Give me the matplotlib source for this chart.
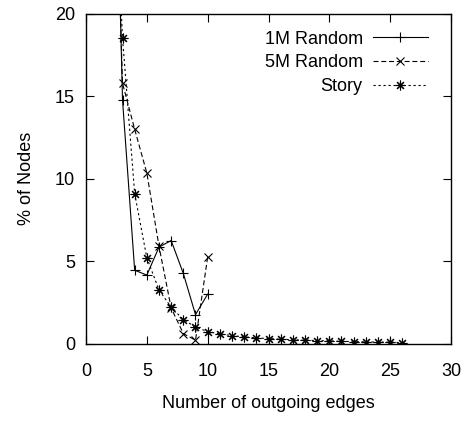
import matplotlib
matplotlib.use("Agg")
import matplotlib.pyplot as plt

plt.rcParams["font.family"] = ["Liberation Sans", "DejaVu Sans"]

# degree values (x) and % of nodes for each run
edges_1m = [2, 3, 4, 5, 6, 7, 8, 9, 10]
pct_1m = [45.0, 14.8, 4.45, 4.15, 5.85, 6.25, 4.25, 1.75, 3.0]

edges_5m = [2, 3, 4, 5, 6, 7, 8, 9, 10]
pct_5m = [40.0, 15.8, 13.0, 10.35, 5.9, 2.15, 0.6, 0.2, 5.25]

edges_story = [2, 3, 4, 5, 6, 7, 8, 9, 10, 11, 12, 13, 14, 15, 16, 17, 18,
               19, 20, 21, 22, 23, 24, 25, 26]
pct_story = [35.0, 18.55, 9.1, 5.2, 3.25, 2.2, 1.45, 1.0, 0.72, 0.58, 0.48,
             0.4, 0.34, 0.3, 0.26, 0.23, 0.2, 0.18, 0.16, 0.13, 0.12, 0.1,
             0.09, 0.08, 0.05]

fig = plt.figure(figsize=(4.66, 4.23), dpi=100)
ax = fig.add_axes([86 / 466, 1 - 343.5 / 423, (451 - 86) / 466, (343.5 - 14) / 423])

ax.plot(edges_1m, pct_1m, color="black", lw=0.8, ls="-", marker="+",
        ms=7, mew=0.8, label="1M Random")
ax.plot(edges_5m, pct_5m, color="black", lw=0.8, ls=(0, (4.5, 2.5)), marker="x",
        ms=6, mew=0.8, label="5M Random")
ax.plot(edges_story, pct_story, color="black", lw=0.8, ls=(0, (2, 2.5)),
        marker=(8, 2, 0), ms=7, mew=0.8, label="Story")

ax.set_xlim(0, 30)
ax.set_ylim(0, 20)
ax.set_xticks([0, 5, 10, 15, 20, 25, 30])
ax.set_yticks([0, 5, 10, 15, 20])
ax.tick_params(direction="in", top=True, right=True, length=6, width=0.8,
               labelsize=13)
ax.tick_params(axis="x", pad=14)
ax.tick_params(axis="y", pad=8)
for sp in ax.spines.values():
    sp.set_linewidth(1.0)

ax.set_xlabel("Number of outgoing edges", fontsize=13, labelpad=11)
ax.set_ylabel("% of Nodes", fontsize=13, labelpad=14)

# gnuplot style key: text right aligned, sample on the right
leg = ax.legend(loc="upper right", bbox_to_anchor=(0.937, 0.951),
                frameon=False, fontsize=13, markerfirst=False,
                handlelength=3.05, handletextpad=0.55, labelspacing=0.37,
                borderaxespad=0, borderpad=0.02)
for t in leg.get_texts():
    t.set_ha("right")
leg._legend_box.align = "right"

fig.savefig("out.png", dpi=100)
